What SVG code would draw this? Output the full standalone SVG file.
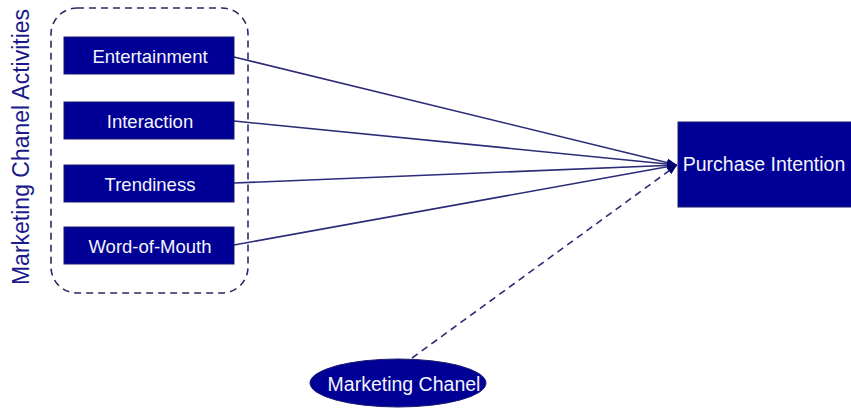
<svg xmlns="http://www.w3.org/2000/svg" width="851" height="409" viewBox="0 0 851 409">
<style>
.node{fill:#000096;stroke:#1a1a70;stroke-width:1}
.lbl{font-family:"Liberation Sans",Arial,sans-serif;font-size:18.5px;fill:#f4f4fa;text-anchor:middle;dominant-baseline:central}
.big{font-size:19.5px}
.conn{stroke:#2b2b78;stroke-width:1.6;fill:none}
.dash{stroke-dasharray:7,5}
</style>
<defs>
<marker id="arr" viewBox="0 0 10 10" refX="10" refY="5" markerWidth="10" markerHeight="10" orient="auto" markerUnits="userSpaceOnUse">
<path d="M0,1 L10,5 L0,9 z" fill="#000070"/>
</marker>
</defs>
<rect x="0" y="0" width="851" height="409" fill="#ffffff"/>
<g id="group">
<rect x="51" y="8" width="197" height="285" rx="26" ry="26" fill="none" stroke="#2b2b60" stroke-width="1.6" stroke-dasharray="7,5"/>
<text x="21" y="147" transform="rotate(-90 21 147)" font-family="'Liberation Sans',Arial,sans-serif" font-size="23" fill="#1a1a8a" text-anchor="middle" dominant-baseline="central">Marketing Chanel Activities</text>
</g>
<g id="connectors">
<line class="conn" x1="234" y1="57" x2="677" y2="165" marker-end="url(#arr)"/>
<line class="conn" x1="234" y1="121" x2="677" y2="165" marker-end="url(#arr)"/>
<line class="conn" x1="234" y1="183" x2="677" y2="165" marker-end="url(#arr)"/>
<line class="conn" x1="234" y1="245" x2="677" y2="165" marker-end="url(#arr)"/>
<line class="conn dash" x1="412" y1="358" x2="677" y2="165" marker-end="url(#arr)"/>
</g>
<g id="entertainment">
<rect class="node" x="64" y="37" width="170" height="37"/>
<text class="lbl" x="150" y="56">Entertainment</text>
</g>
<g id="interaction">
<rect class="node" x="64" y="102" width="170" height="37"/>
<text class="lbl" x="150" y="121">Interaction</text>
</g>
<g id="trendiness">
<rect class="node" x="64" y="165" width="170" height="37"/>
<text class="lbl" x="150" y="184">Trendiness</text>
</g>
<g id="word-of-mouth">
<rect class="node" x="64" y="227" width="170" height="37"/>
<text class="lbl" x="150" y="246">Word-of-Mouth</text>
</g>
<g id="purchase-intention">
<rect class="node" x="678" y="122" width="175" height="85"/>
<text class="lbl big" x="764" y="164">Purchase Intention</text>
</g>
<g id="marketing-chanel">
<ellipse class="node" cx="398" cy="383" rx="88" ry="24"/>
<text class="lbl big" x="404" y="384">Marketing Chanel</text>
</g>
</svg>
